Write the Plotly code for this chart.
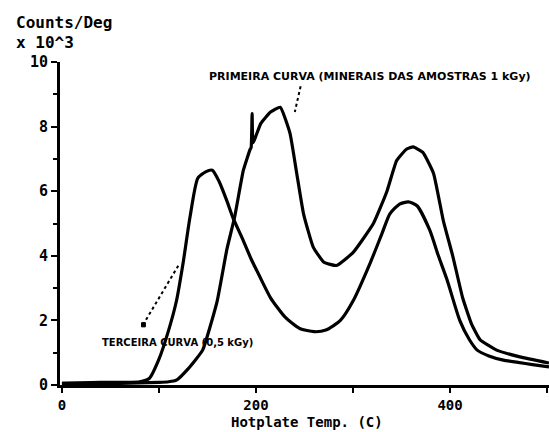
import plotly.graph_objects as go

# Terceira curva (0,5 kGy)
x_terc = [0, 40, 80, 90, 100, 110, 118, 125, 132, 140, 148, 155, 162, 170, 176, 185, 195, 204,
          215, 230, 245, 260, 272, 287, 300, 318, 330, 338, 348, 357, 366, 379, 388, 397, 410,
          420, 428, 440, 455, 470, 485, 502]
y_terc = [0.05, 0.08, 0.1, 0.2, 0.8, 1.7, 2.6, 3.8, 5.2, 6.4, 6.6, 6.65, 6.3, 5.7, 5.2, 4.6, 3.9, 3.35,
          2.7, 2.1, 1.75, 1.65, 1.7, 2.0, 2.6, 3.8, 4.7, 5.3, 5.6, 5.67, 5.55, 4.8, 4.0, 3.25, 2.0,
          1.4, 1.08, 0.9, 0.77, 0.7, 0.63, 0.56]

# Primeira curva (minerais das amostras 1 kGy)
x_prim = [0, 60, 100, 110, 118, 130, 145, 160, 170, 178, 187, 194, 195, 196, 197, 205, 215, 225,
          235, 242, 249, 259, 270, 283, 300, 321, 335, 345, 355, 362, 372, 383, 393, 403, 413,
          422, 431, 448, 472, 502]
y_prim = [0.05, 0.05, 0.08, 0.1, 0.15, 0.5, 1.08, 2.6, 4.2, 5.2, 6.65, 7.3, 7.35, 8.4, 7.5, 8.1, 8.45, 8.6,
          7.8, 6.55, 5.3, 4.27, 3.8, 3.7, 4.1, 5.0, 6.0, 6.95, 7.3, 7.37, 7.2, 6.55, 5.1, 3.97, 2.7,
          1.9, 1.4, 1.08, 0.87, 0.68]

x_tickvals = [0, 100, 200, 300, 400, 500]
x_ticktext = ["0", "", "200", "", "400", ""]
y_tickvals = [0, 2, 4, 6, 8, 10]
y_ticktext = ["0", "2", "4", "6", "8", "10"]

label_prim = "PRIMEIRA CURVA (MINERAIS DAS AMOSTRAS 1 kGy)"
label_terc = "TERCEIRA CURVA (0,5 kGy)"

MONO = "DejaVu Sans Mono"
fig = go.Figure()
fig.add_trace(go.Scatter(x=x_terc, y=y_terc, mode="lines",
                         line=dict(color="black", width=3.2, shape="spline", smoothing=0.6),
                         showlegend=False))
fig.add_trace(go.Scatter(x=x_prim, y=y_prim, mode="lines",
                         line=dict(color="black", width=3.2, shape="spline", smoothing=0.4),
                         showlegend=False))

fig.update_layout(
    width=549, height=432,
    margin=dict(l=60, r=0, t=62, b=47),
    paper_bgcolor="white", plot_bgcolor="white",
    font=dict(family=MONO, color="black"),
    xaxis=dict(range=[-2, 502], showgrid=False, zeroline=False,
               showline=True, linecolor="black", linewidth=3,
               ticks="outside", ticklen=5, tickwidth=2, tickcolor="black",
               tickvals=x_tickvals, ticktext=x_ticktext, ticklabelstandoff=0,
               tickfont=dict(family=MONO, size=14, color="black", weight="bold")),
    yaxis=dict(range=[0, 10], showgrid=False, zeroline=False,
               showline=True, linecolor="black", linewidth=3,
               ticks="outside", ticklen=6, tickwidth=2, tickcolor="black",
               tickvals=y_tickvals, ticktext=y_ticktext,
               minor=dict(dtick=1, ticks="outside", ticklen=4, tickwidth=2, tickcolor="black"),
               tickfont=dict(family=MONO, size=15, color="black", weight="bold")),
)

fig.add_annotation(xref="paper", yref="paper", x=-0.094, y=1.122, xanchor="left", yanchor="middle",
                   text="Counts/Deg", showarrow=False,
                   font=dict(family=MONO, size=16, color="black", weight="bold"))
fig.add_annotation(xref="paper", yref="paper", x=-0.094, y=1.06, xanchor="left", yanchor="middle",
                   text="x 10^3", showarrow=False,
                   font=dict(family=MONO, size=16, color="black", weight="bold"))
fig.add_annotation(xref="paper", yref="paper", x=0.506, y=-0.143, xanchor="center", yanchor="bottom",
                   text="Hotplate Temp. (C)", showarrow=False, borderpad=0,
                   font=dict(family=MONO, size=14, color="black", weight="bold"))

fig.add_annotation(xref="x", yref="y", x=149, y=9.54, xanchor="left", yanchor="middle",
                   text=label_prim, showarrow=False,
                   font=dict(family="DejaVu Sans", size=11, color="black", weight="bold"))
fig.add_annotation(xref="x", yref="y", x=39, y=1.33, xanchor="left", yanchor="middle",
                   text=label_terc, showarrow=False,
                   font=dict(family="DejaVu Sans", size=10, color="black", weight="bold"))

# dotted pointer lines
fig.add_shape(type="line", xref="x", yref="y", x0=246, y0=9.25, x1=240, y1=8.45,
              line=dict(color="black", width=2, dash="dot"))
fig.add_shape(type="line", xref="x", yref="y", x0=83.5, y0=1.86, x1=121.6, y1=3.78,
              line=dict(color="black", width=2, dash="dot"))
fig.add_shape(type="rect", xref="x", yref="y", x0=82, y0=1.8, x1=86, y1=1.93,
              line=dict(color="black", width=1), fillcolor="black")

fig.write_html("out.html")
